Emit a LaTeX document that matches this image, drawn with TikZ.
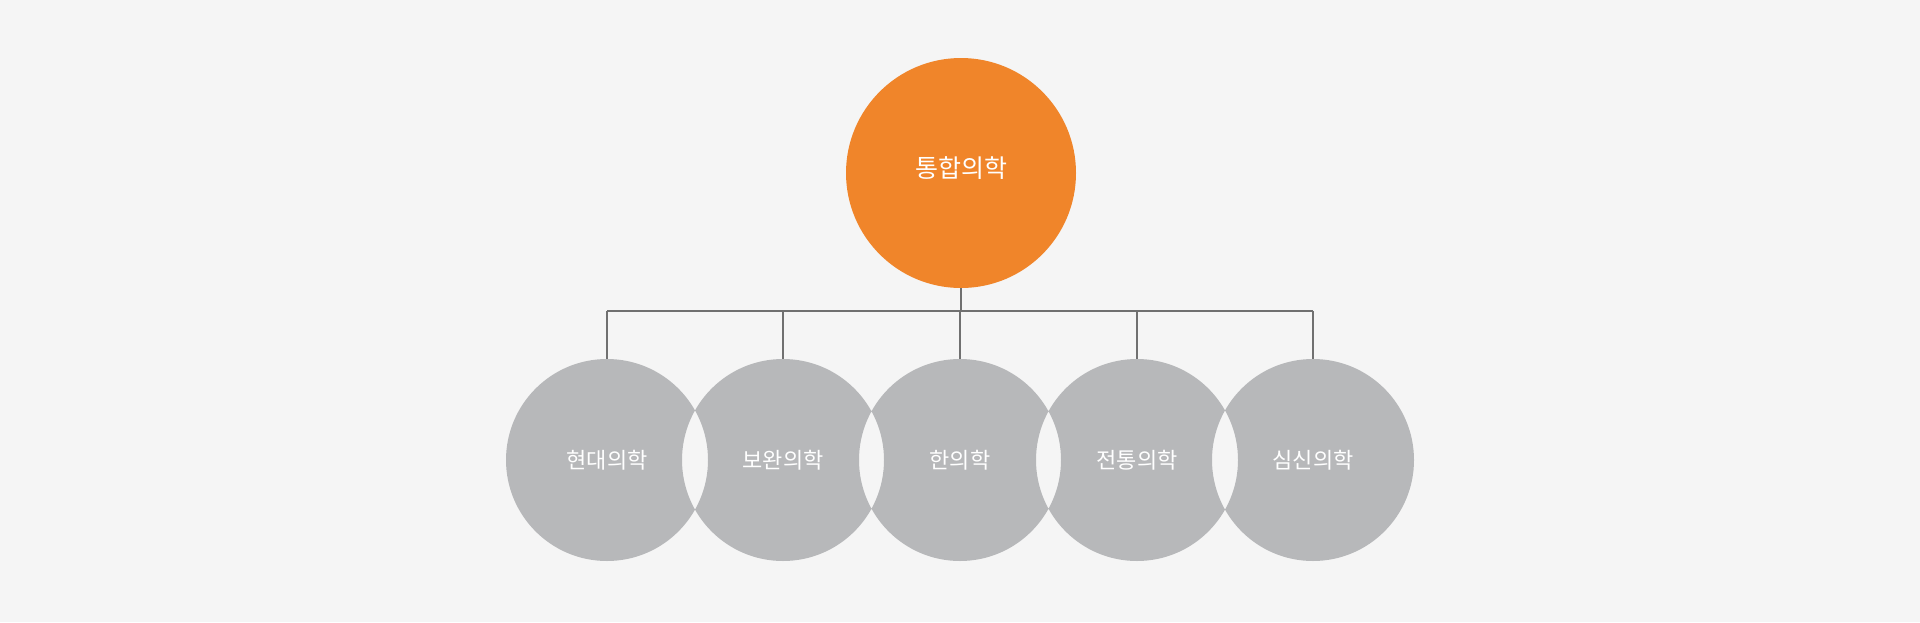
\documentclass[tikz,border=0pt]{standalone}
\usepackage{fontspec}
\setmainfont{Noto Sans CJK KR}
\definecolor{bg}{HTML}{F5F5F5}
\definecolor{org}{HTML}{F0852A}
\definecolor{gry}{HTML}{B7B8BA}
\definecolor{ln}{HTML}{707070}
\begin{document}
\begin{tikzpicture}[x=1pt,y=-1pt,
  lbl/.style={text=white,font=\fontsize{22}{26}\selectfont},
  conn/.style={draw=ln,line width=1.3pt}]
\fill[bg] (0,0) rectangle (1920,622);
\useasboundingbox (0,0) rectangle (1920,622);
\fill[org] (961,173) circle (115);
\node[lbl,font=\fontsize{25}{30}\selectfont] (top) at (961,168) {통합의학};
\fill[gry,even odd rule] (607,460) circle (101) (783,460) circle (101) (960,460) circle (101) (1137,460) circle (101) (1313,460) circle (101);
\node[lbl] (a) at (607,460) {현대의학};
\node[lbl] (b) at (783,460) {보완의학};
\node[lbl] (c) at (960,460) {한의학};
\node[lbl] (d) at (1137,460) {전통의학};
\node[lbl] (e) at (1313,460) {심신의학};
\coordinate (ta) at (961,288);
\coordinate (tb) at (961,311);
\draw[conn] (ta) -- (tb);
\draw[conn] (607,311) -- (1313,311);
\foreach \x in {607,783,960,1137,1313} \draw[conn] (\x,311) -- (\x,359);
\end{tikzpicture}
\end{document}
